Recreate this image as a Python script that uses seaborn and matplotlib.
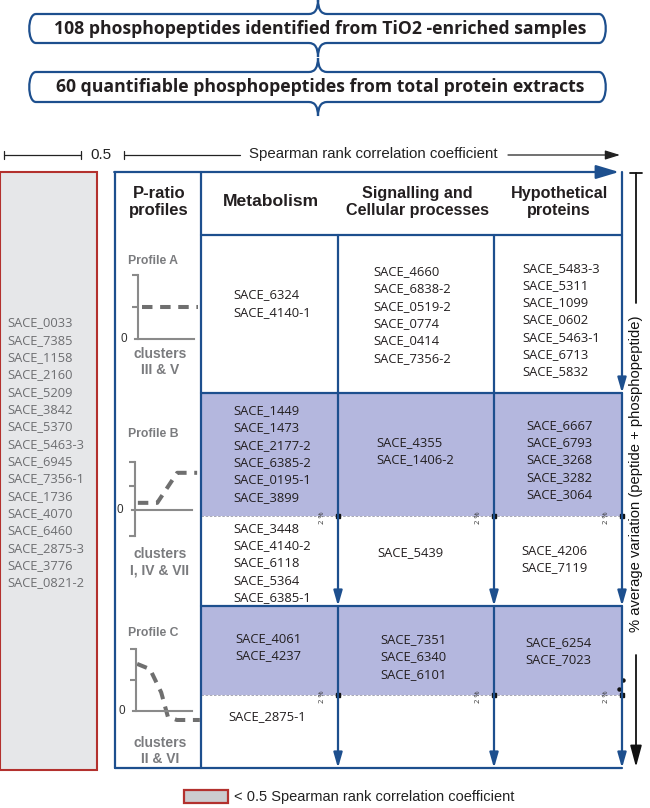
import matplotlib
matplotlib.use("Agg")
import matplotlib.pyplot as plt
import seaborn as sns
import pandas as pd
from matplotlib.path import Path
from matplotlib.patches import PathPatch, Rectangle

sns.set_theme(style="ticks")
plt.rcParams["font.family"] = ["Open Sans", "DejaVu Sans"]

# ---- data -------------------------------------------------------------
titles = ["108 phosphopeptides identified from TiO2 -enriched samples",
          "60 quantifiable phosphopeptides from total protein extracts"]

low_corr = ["SACE_0033", "SACE_7385", "SACE_1158", "SACE_2160", "SACE_5209",
            "SACE_3842", "SACE_5370", "SACE_5463-3", "SACE_6945", "SACE_7356-1",
            "SACE_1736", "SACE_4070", "SACE_6460", "SACE_2875-3", "SACE_3776",
            "SACE_0821-2"]

categories = ["Metabolism", "Signalling and\nCellular processes", "Hypothetical\nproteins"]
cat_size = [12.6, 11.6, 11.6]

profile_a = {"metab": ["SACE_6324", "SACE_4140-1"],
             "signal": ["SACE_4660", "SACE_6838-2", "SACE_0519-2", "SACE_0774",
                        "SACE_0414", "SACE_7356-2"],
             "hypo": ["SACE_5483-3", "SACE_5311", "SACE_1099", "SACE_0602",
                      "SACE_5463-1", "SACE_6713", "SACE_5832"]}
profile_b_high = {"metab": ["SACE_1449", "SACE_1473", "SACE_2177-2", "SACE_6385-2",
                            "SACE_0195-1", "SACE_3899"],
                  "signal": ["SACE_4355", "SACE_1406-2"],
                  "hypo": ["SACE_6667", "SACE_6793", "SACE_3268", "SACE_3282", "SACE_3064"]}
profile_b_low = {"metab": ["SACE_3448", "SACE_4140-2", "SACE_6118", "SACE_5364", "SACE_6385-1"],
                 "signal": ["SACE_5439"],
                 "hypo": ["SACE_4206", "SACE_7119"]}
profile_c_high = {"metab": ["SACE_4061", "SACE_4237"],
                  "signal": ["SACE_7351", "SACE_6340", "SACE_6101"],
                  "hypo": ["SACE_6254", "SACE_7023"]}
profile_c_low = {"metab": ["SACE_2875-1"], "signal": [], "hypo": []}

# sketch profiles (P-ratio shape), x = time point, y = ratio
prof_a_x = [0.07, 1.07]
prof_a_y = [1.0, 1.0]
prof_b_x = [0.05, 0.39, 0.74, 1.09]
prof_b_y = [0.3, 0.3, 1.55, 1.55]
prof_c_x = [0.02, 0.25, 0.45, 0.57, 0.73, 1.14]
prof_c_y = [1.52, 1.35, 0.6, -0.19, -0.29, -0.29]

# ---- layout (pixels) -------------------------------------------------
W, H = 650, 808
NAVY = "#1d4f8e"
SHADE = "#b4b7de"
GREY_TXT = "#7a7b7e"
cols = [115, 201, 338, 494, 622]
rows = {"top": 172, "head": 235, "ab": 393, "bdash": 516, "bc": 606, "cdash": 695, "bot": 768}

fig = plt.figure(figsize=(W / 100, H / 100), dpi=100)
ax = fig.add_axes([0, 0, 1, 1])
ax.set_xlim(0, W)
ax.set_ylim(H, 0)
ax.axis("off")


def brace_box(x0, x1, y0, y1, xc, tip=14, b=9, r=9):
    verts = [(x0 + r, y0), (xc - b, y0), (xc, y0), (xc, y0 - tip), (xc, y0), (xc + b, y0),
             (x1 - r, y0), (x1, y0), (x1, y1), (x1 - r, y1),
             (xc + b, y1), (xc, y1), (xc, y1 + tip), (xc, y1), (xc - b, y1),
             (x0 + r, y1), (x0, y1), (x0, y0), (x0 + r, y0)]
    codes = [Path.MOVETO, Path.LINETO, Path.CURVE3, Path.CURVE3, Path.CURVE3, Path.CURVE3,
             Path.LINETO, Path.CURVE4, Path.CURVE4, Path.CURVE4,
             Path.LINETO, Path.CURVE3, Path.CURVE3, Path.CURVE3, Path.CURVE3,
             Path.LINETO, Path.CURVE4, Path.CURVE4, Path.CURVE4]
    ax.add_patch(PathPatch(Path(verts, codes), fc="white", ec=NAVY, lw=1.6))


# title boxes
ax.plot([318, 318], [0, 2], color=NAVY, lw=1.6)
for t, (y0, y1) in zip(titles, [(14, 43), (72, 102)]):
    brace_box(27, 608, y0, y1, 318)
    ax.text(320, (y0 + y1) / 2 + 0.5, t, ha="center", va="center", fontsize=12.7,
            fontweight="bold", color="#231f20")

# scale bar
sc_y = 155
ax.plot([4, 81], [sc_y, sc_y], color="#222", lw=0.9)
for xx in (4, 81, 124):
    ax.plot([xx, xx], [sc_y - 4, sc_y + 4], color="#222", lw=0.9)
ax.text(101, sc_y, "0.5", ha="center", va="center", fontsize=11,
        family=["Liberation Sans", "DejaVu Sans"], color="#222")
ax.plot([124, 240], [sc_y, sc_y], color="#222", lw=0.9)
ax.text(373, sc_y - 1, "Spearman rank correlation coefficient", ha="center", va="center",
        fontsize=10.8, family=["Liberation Sans", "DejaVu Sans"], color="#222")
ax.annotate("", xy=(620, sc_y), xytext=(508, sc_y),
            arrowprops=dict(arrowstyle="-|>,head_length=0.9,head_width=0.28", color="#222",
                            lw=0.9, shrinkA=0, shrinkB=0, mutation_scale=10))

# low correlation box
ax.add_patch(Rectangle((0, 172), 97, 598, fc="#e6e7e9", ec="#b3312e", lw=1.5))
for i, g in enumerate(low_corr):
    ax.text(7, 323 + i * 17.33, g, ha="left", va="center", fontsize=9.3, color="#6d6e71")

# shaded blocks
ax.add_patch(Rectangle((cols[1], rows["ab"]), cols[4] - cols[1], rows["bdash"] - rows["ab"],
                       fc=SHADE, ec="none"))
ax.add_patch(Rectangle((cols[1], rows["bc"]), cols[4] - cols[1], rows["cdash"] - rows["bc"],
                       fc=SHADE, ec="none"))
for key in ("bdash", "cdash"):
    ax.plot([cols[1], cols[4]], [rows[key], rows[key]], color="#9a9aa8", lw=0.6, ls=(0, (3, 2)))

# table frame
lw = 1.6
ax.plot([cols[0], cols[0]], [rows["top"], rows["bot"]], color=NAVY, lw=lw)
ax.plot([cols[1], cols[1]], [rows["top"], rows["bot"]], color=NAVY, lw=lw)
ax.plot([cols[0], cols[4]], [rows["bot"], rows["bot"]], color=NAVY, lw=lw)
for key in ("head", "ab", "bc"):
    ax.plot([cols[1], cols[4]], [rows[key], rows[key]], color=NAVY, lw=lw)
ax.annotate("", xy=(619, rows["top"]), xytext=(cols[0] - 0.8, rows["top"]),
            arrowprops=dict(arrowstyle="-|>,head_length=1.4,head_width=0.42", color=NAVY,
                            lw=lw, shrinkA=0, shrinkB=0, mutation_scale=10))


def down_arrow(x, y0, y1, head=True):
    if head:
        ax.annotate("", xy=(x, y1), xytext=(x, y0),
                    arrowprops=dict(arrowstyle="-|>,head_length=0.9,head_width=0.26", color=NAVY,
                                    lw=lw, shrinkA=0, shrinkB=0, mutation_scale=10))
    else:
        ax.plot([x, x], [y0, y1], color=NAVY, lw=lw)


for x in cols[2:4]:
    down_arrow(x, rows["head"], rows["ab"], head=False)
    down_arrow(x, rows["ab"], rows["bc"])
    down_arrow(x, rows["bc"], rows["bot"])
down_arrow(cols[4], rows["top"], rows["ab"])
down_arrow(cols[4], rows["ab"], rows["bc"])
down_arrow(cols[4], rows["bc"], rows["bot"])

# 2 % markers
for key in ("bdash", "cdash"):
    for x in cols[2:]:
        ax.plot(x, rows[key], marker="s", ms=3, color="#111", mec="#111")
        ax.text(x - 15, rows[key] + 2, "2 %", rotation=90, ha="center", va="center",
                fontsize=5.5, color="#333")
ax.plot([623, 619], [680, 689], ls="none", marker="o", ms=2.2, color="#111")

# headers
HFONT = ["Liberation Sans", "DejaVu Sans"]
ax.text((cols[0] + cols[1]) / 2 + 1, 202, "P-ratio\nprofiles", ha="center", va="center",
        fontsize=12, fontweight="bold", family=HFONT, color="#231f20", linespacing=1.2)
for i, c in enumerate(categories):
    ax.text((cols[i + 1] + cols[i + 2]) / 2 + 1, 202, c, ha="center", va="center",
            fontsize=cat_size[i], fontweight="bold", family=HFONT, color="#231f20",
            linespacing=1.2)

# cell contents
STEP = 17.3


def cell(lines, x, yc):
    n = len(lines)
    for i, g in enumerate(lines):
        ax.text(x, yc + (i - (n - 1) / 2) * STEP, g, ha="left", va="center",
                fontsize=9.4, color="#231f20")


cell(profile_a["metab"], 233, 303.5)
cell(profile_a["signal"], 373, 315)
cell(profile_a["hypo"], 522, 320)
cell(profile_b_high["metab"], 233, 454)
cell(profile_b_high["signal"], 376, 451)
cell(profile_b_high["hypo"], 526, 460)
cell(profile_b_low["metab"], 233, 563)
cell(profile_b_low["signal"], 377, 553)
cell(profile_b_low["hypo"], 521, 559)
cell(profile_c_high["metab"], 235, 647)
cell(profile_c_high["signal"], 380, 657)
cell(profile_c_high["hypo"], 525, 651)
cell(profile_c_low["metab"], 228, 717)

# profile sketches
PGREY = "#8a8a8a"


def profile_axes(x0, x1, ytop, ybot, ylim):
    iax = fig.add_axes([x0 / W, 1 - ybot / H, (x1 - x0) / W, (ybot - ytop) / H])
    iax.set_xlim(0, 1)
    iax.set_ylim(*ylim)
    iax.patch.set_alpha(0)
    for s in ("top", "right"):
        iax.spines[s].set_visible(False)
    for s in ("left", "bottom"):
        iax.spines[s].set_color(PGREY)
        iax.spines[s].set_linewidth(1.5)
    iax.spines["bottom"].set_position(("data", 0))
    iax.spines["bottom"].set_bounds(-0.05, 1)
    iax.set_xticks([])
    iax.set_yticks([])
    ticks = [ylim[0], 1, 2] if ylim[0] < 0 else [1, 2]
    for t in ticks:
        iax.plot([-0.1, 0], [t, t], color=PGREY, lw=1.5, clip_on=False, solid_capstyle="butt")
    iax.text(-0.2, 0, "0", ha="right", va="center", fontsize=8.5, color="#333",
             family="Liberation Sans")
    return iax


def draw_profile(iax, xs, ys):
    d = pd.DataFrame({"t": xs, "ratio": ys})
    sns.lineplot(data=d, x="t", y="ratio", ax=iax, color="#6f6f6f", lw=2.9,
                 linestyle=(0, (2.6, 1.9)), clip_on=False)
    iax.set_xlabel("")
    iax.set_ylabel("")


ia = profile_axes(138, 194, 275, 339, (0, 2))
draw_profile(ia, prof_a_x, prof_a_y)
ib = profile_axes(135, 192, 462, 536, (-1.08, 2))
draw_profile(ib, prof_b_x, prof_b_y)
ic = profile_axes(136, 192, 649, 711, (0, 2))
draw_profile(ic, prof_c_x, prof_c_y)

PFONT = ["Liberation Sans", "DejaVu Sans"]
for name, y in (("Profile A", 261), ("Profile B", 434), ("Profile C", 633)):
    ax.text(153, y, name, ha="center", va="center", fontsize=8.8, fontweight="bold",
            family=PFONT, color=GREY_TXT)
for lab, y in (("clusters\nIII & V", 362), ("clusters\nI, IV & VII", 562),
               ("clusters\nII & VI", 751)):
    ax.text(160, y, lab, ha="center", va="center", fontsize=10, fontweight="bold",
            family=PFONT, color=GREY_TXT, linespacing=1.25)

# right axis: % average variation
ax.plot([636, 636], [173, 303], color="#111", lw=1.3)
ax.plot([630, 642], [173, 173], color="#111", lw=1.3)
ax.text(636, 474, "% average variation (peptide + phosphopeptide)", rotation=90,
        ha="center", va="center", fontsize=10.6, family=PFONT, color="#111")
ax.annotate("", xy=(636, 767), xytext=(636, 655),
            arrowprops=dict(arrowstyle="-|>,head_length=1.3,head_width=0.35", color="#111",
                            lw=1.3, shrinkA=0, shrinkB=0, mutation_scale=10))

# legend
ax.add_patch(Rectangle((184, 790), 44, 13, fc="#cbcccf", ec="#b3312e", lw=1.6))
ax.text(234, 797, "< 0.5 Spearman rank correlation coefficient", ha="left", va="center",
        fontsize=10.5, family=PFONT, color="#222")

fig.savefig("out.png", dpi=100)
